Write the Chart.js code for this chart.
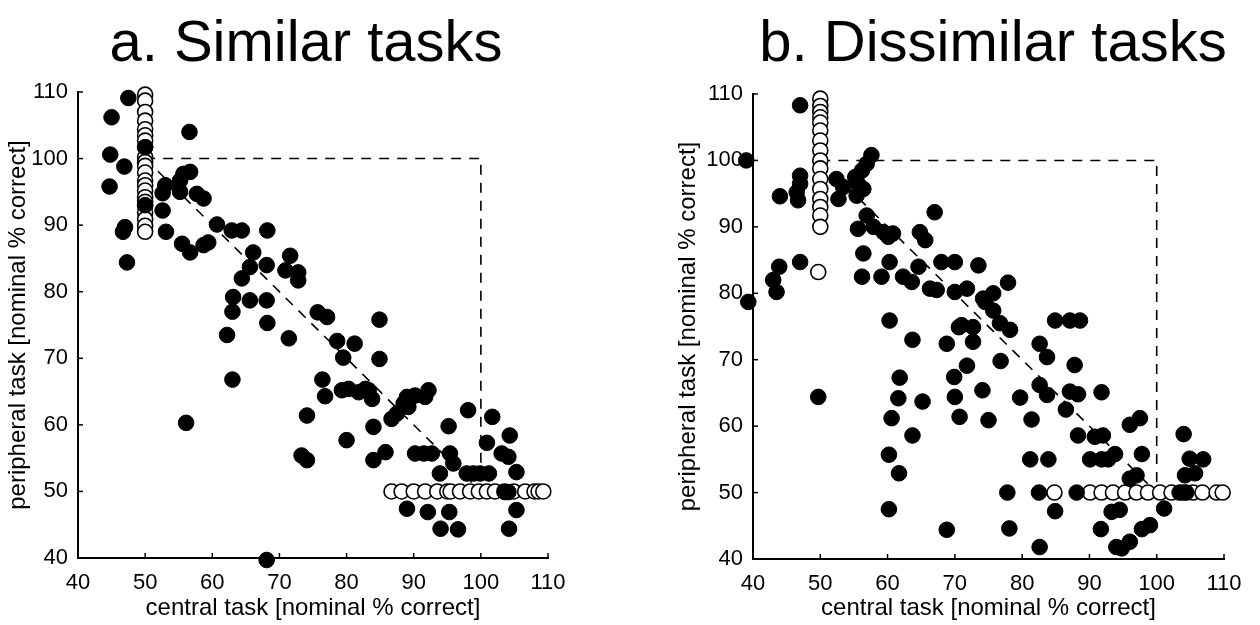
<!DOCTYPE html>
<html>
<head>
<meta charset="utf-8">
<script src="https://cdn.jsdelivr.net/npm/chart.js@4.4.0/dist/chart.umd.min.js"></script>
<style>
  body { margin: 0; background: #fff; }
  .panel { position: absolute; top: 0; width: 630px; height: 625px; }
  #left { left: 0; }
  #right { left: 630px; }
</style>
</head>
<body>
<div class="panel" id="left"><canvas id="simChart" width="630" height="625"></canvas></div>
<div class="panel" id="right"><canvas id="dissChart" width="630" height="625"></canvas></div>
<script>
// a. similar tasks: [central, peripheral]
const simFilled = [
  [47.5,109.1],[45.0,106.2],[56.6,104.0],[44.8,100.6],[46.9,98.8],[44.7,95.8],[50,101.7],[50,93.0],
  [55.7,97.7],[56.7,98.0],[55.2,96.7],[55.2,95.0],[53.0,96.0],[52.6,94.8],[57.7,94.7],[58.7,94.0],
  [52.6,92.2],[60.7,90.1],[47.0,89.7],[46.7,89.0],[53.1,89.0],[62.9,89.2],[64.4,89.2],[68.2,89.2],
  [55.5,87.2],[56.7,85.9],[58.7,87.0],[59.4,87.4],[47.3,84.4],[66.1,85.9],[71.6,85.4],
  [65.6,83.7],[68.1,84.0],[70.9,83.2],[72.8,82.9],[72.8,81.7],[64.4,82.0],
  [63.1,79.2],[65.6,78.7],[68.1,78.7],
  [63.0,77.0],[68.2,75.3],[62.2,73.5],[71.4,73.0],[75.7,76.9],[77.1,76.2],[63.0,66.8],[76.4,66.8],
  [76.8,64.3],[74.1,61.4],[56.1,60.3],[73.3,55.4],[74.1,54.7],[68.1,39.7],
  [84.9,75.8],[78.6,72.6],[81.2,72.2],[79.5,70.1],[84.9,69.9],
  [79.3,65.2],[80.3,65.4],[81.8,64.9],[82.8,65.4],[83.3,65.2],[83.8,63.9],
  [89.0,64.2],[90.2,64.4],[92.2,65.2],[91.7,64.2],[88.5,63.2],[89.2,62.7],[87.5,61.7],[86.7,60.9],
  [84.0,59.7],[80.0,57.7],[84.0,54.7],[85.8,55.9],[90.2,55.7],[91.5,55.7],[92.7,55.7],
  [95.2,59.8],[98.1,62.2],[101.7,61.2],[104.3,58.4],[100.9,57.3],[103.1,55.7],[104.1,55.2],
  [95.4,55.7],[95.9,54.2],[93.9,52.7],[97.9,52.7],[98.9,52.7],[99.9,52.7],[101.2,52.7],[105.3,52.9],
  [103.6,49.9],[104.1,49.9],[89.0,47.4],[92.1,46.9],[95.3,46.9],[105.3,47.2],[94.0,44.4],[96.6,44.3],[104.2,44.4]
];
const simOpenColumn = [109.6,108.7,107.0,105.7,104.4,103.5,102.7,101.7,100.2,99.5,98.9,97.9,96.7,96.0,95.2,94.2,93.5,92.9,91.9,90.9,89.9,89.0];
const simOpenRow = [86.7,88.2,90.0,91.7,93.5,95.0,95.5,96.9,98.4,99.7,100.9,102.1,103.5,104.9,106.6,108.0,108.6,109.3];

// b. dissimilar tasks
const dissFilled = [
  [47.0,108.3],[39,100.0],[47.0,97.7],[47.0,96.5],[46.5,95.2],[46.7,94.0],[44.0,94.6],[47.0,84.7],
  [43.9,84.0],[43.0,82.0],[43.5,80.2],[39.3,78.7],
  [52.4,97.2],[53.4,96.0],[52.7,94.2],[55.2,97.5],[55.6,96.5],[56.2,98.5],[56.9,99.5],[57.6,100.8],[55.4,94.7],[56.4,95.7],
  [56.9,91.7],[55.6,89.7],[57.9,90.0],[59.4,89.2],[60.1,88.5],[60.8,89.0],[67.0,92.2],[64.8,89.2],[65.6,88.0],
  [56.4,86.0],[60.3,84.7],[64.6,84.0],[68.0,84.7],[70.0,84.7],[73.5,84.2],
  [56.2,82.5],[59.1,82.5],[62.3,82.5],[63.6,81.7],[66.3,80.7],[67.3,80.5],[70.0,80.2],[71.8,80.7],
  [75.7,80.0],[77.9,81.6],[74.2,79.2],
  [60.3,75.9],[63.7,73.0],[68.8,72.4],[70.6,74.9],[72.7,74.9],[72.7,72.7],[71.8,69.1],[69.9,67.4],
  [61.8,67.3],[61.6,64.2],[65.2,63.7],[70.0,64.4],[70.7,61.4],[60.6,61.2],[49.7,64.4],[63.7,58.6],
  [60.2,55.7],[61.7,52.9],[60.2,47.5],[68.8,44.4],
  [74.5,78.7],[75.7,77.4],[71.0,75.2],[76.7,75.5],[78.2,74.5],[76.8,69.8],[74.1,65.4],[75.0,60.9],
  [79.7,64.3],[81.4,61.0],[82.6,72.4],[83.7,70.4],[84.9,75.9],[87.1,75.9],[88.6,75.9],[87.8,69.2],
  [82.6,66.2],[83.7,64.7],[87.1,65.2],[88.3,64.8],[86.5,62.5],[91.8,65.1],[88.3,58.6],[90.8,58.4],
  [92.0,58.6],[96.0,60.2],[97.5,61.2],[81.2,55.0],[83.9,55.0],[90.1,55.0],[91.8,55.0],[92.8,55.0],
  [93.8,55.8],[97.8,55.8],[96.0,52.1],[97.0,52.6],[104.0,58.8],[104.9,55.1],[106.9,55.0],[105.7,52.9],[104.2,52.6],
  [77.8,50],[82.5,50],[88.1,50],[103.4,50],[104.4,50],
  [84.9,47.2],[93.3,47.1],[94.5,47.4],[101.1,47.6],[78.1,44.6],[91.7,44.5],[97.8,44.5],[99.0,45.1],
  [94.0,41.8],[94.8,41.6],[96.0,42.6],[82.6,41.8]
];
const dissOpenColumn = [109.3,108.2,107.3,106.5,105.7,104.5,103.0,101.5,100.0,98.8,97.2,95.7,94.2,93.0,91.7,90.0];
const dissOpenExtra = [[49.7,83.2],[84.8,50]];
const dissOpenRow = [90.1,91.8,93.5,95.3,97.0,98.7,100.5,102.2,104.0,105.4,106.8,108.9,109.8];

// guide lines (ideal trade-off and independence box)
const diagLine = [[50,100],[100,50]];
const boxLine = [[50,100],[100,100],[100,50]];

const tickVals = [40,50,60,70,80,90,100,110];
const FONT = "'Liberation Sans', Arial, Helvetica, sans-serif";

const pts = arr => arr.map(p => ({x: p[0], y: p[1]}));

const innerTicks = {
  id: 'innerTicks',
  afterDraw(chart) {
    const ctx = chart.ctx, a = chart.chartArea;
    const xs = chart.scales.x, ys = chart.scales.y;
    ctx.save();
    ctx.strokeStyle = '#000';
    ctx.lineWidth = 1.5;
    tickVals.forEach(v => {
      const px = xs.getPixelForValue(v);
      ctx.beginPath(); ctx.moveTo(px, a.bottom); ctx.lineTo(px, a.bottom - 5); ctx.stroke();
      const py = ys.getPixelForValue(v);
      ctx.beginPath(); ctx.moveTo(a.left, py); ctx.lineTo(a.left + 5, py); ctx.stroke();
    });
    ctx.restore();
  }
};

const panelTitle = {
  id: 'panelTitle',
  afterDraw(chart, args, opts) {
    const ctx = chart.ctx;
    ctx.save();
    ctx.fillStyle = '#000';
    ctx.font = opts.size + 'px ' + FONT;
    ctx.textAlign = 'center';
    ctx.textBaseline = 'alphabetic';
    ctx.fillText(opts.text, opts.x, opts.y);
    ctx.restore();
  }
};

function makeChart(id, filled, open, cfg) {
  new Chart(document.getElementById(id), {
    type: 'scatter',
    data: {
      datasets: [
        { data: pts(filled), pointRadius: 7.8, pointBackgroundColor: '#000', pointBorderColor: '#000', pointBorderWidth: 1, clip: false },
        { data: pts(open), pointRadius: 7.5, pointBackgroundColor: '#fff', pointBorderColor: '#000', pointBorderWidth: 1.6, clip: false },
        { type: 'line', data: pts(diagLine), showLine: true, pointRadius: 0, borderColor: '#000', borderWidth: 1.6, borderDash: [10, 8] },
        { type: 'line', data: pts(boxLine), showLine: true, pointRadius: 0, borderColor: '#000', borderWidth: 1.6, borderDash: [10, 8] }
      ]
    },
    options: {
      responsive: false,
      animation: false,
      devicePixelRatio: 1,
      layout: { padding: cfg.padding },
      plugins: {
        legend: { display: false },
        tooltip: { enabled: false },
        panelTitle: cfg.title
      },
      scales: {
        x: {
          type: 'linear', min: 40, max: 110,
          afterBuildTicks: s => { s.ticks = tickVals.map(v => ({value: v})); },
          afterFit: s => { s.height = cfg.xHeight; },
          grid: { display: false },
          border: { display: true, color: '#000', width: 2 },
          ticks: { color: '#000', padding: 4, font: { family: FONT, size: 22 } },
          title: { display: true, text: 'central task [nominal % correct]', color: '#000',
                   font: { family: FONT, size: 24 }, padding: { top: 0, bottom: 2 } }
        },
        y: {
          type: 'linear', min: 40, max: 110,
          afterBuildTicks: s => { s.ticks = tickVals.map(v => ({value: v})); },
          afterFit: s => { s.width = cfg.yWidth; },
          grid: { display: false },
          border: { display: true, color: '#000', width: 2 },
          ticks: { color: '#000', padding: 2, font: { family: FONT, size: 22 } },
          title: { display: true, text: 'peripheral task [nominal % correct]', color: '#000',
                   font: { family: FONT, size: 24 }, padding: { top: 4, bottom: 0 } }
        }
      }
    },
    plugins: [innerTicks, panelTitle]
  });
}

makeChart('simChart', simFilled,
  simOpenColumn.map(v => [50, v]).concat(simOpenRow.map(v => [v, 50])),
  { padding: { left: 0, right: 82, top: 92, bottom: 0 }, xHeight: 67, yWidth: 78,
    title: { text: 'a. Similar tasks', x: 306, y: 61, size: 58 } });

makeChart('dissChart', dissFilled,
  dissOpenColumn.map(v => [50, v]).concat(dissOpenExtra, dissOpenRow.map(v => [v, 50])),
  { padding: { left: 40, right: 36, top: 94, bottom: 0 }, xHeight: 66, yWidth: 83,
    title: { text: 'b. Dissimilar tasks', x: 363, y: 61, size: 58 } });
</script>
</body>
</html>
